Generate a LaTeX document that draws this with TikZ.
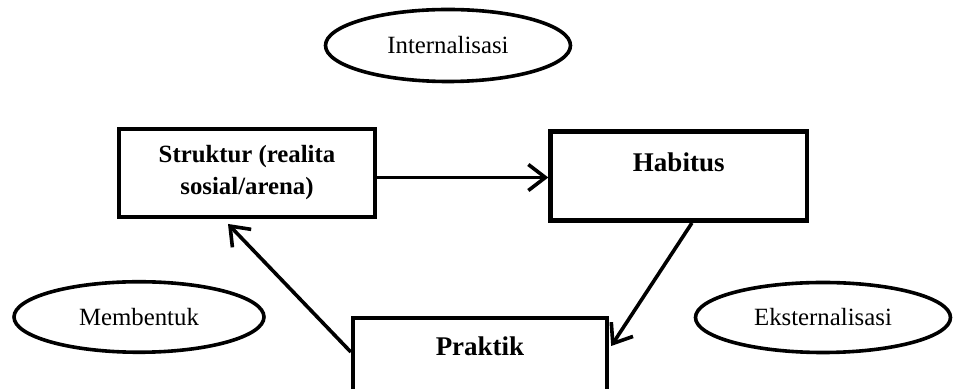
\documentclass[tikz,border=0pt]{standalone}
\usepackage{fontspec}
\setmainfont{Liberation Serif}
\usetikzlibrary{shapes.geometric,arrows.meta}

\begin{document}
\begin{tikzpicture}[x=0.5pt,y=-0.5pt,
  boxnode/.style={draw, line width=2.2pt, rectangle, inner sep=0pt, align=center},
  ovalnode/.style={draw, line width=1.8pt, ellipse, inner sep=0pt, font=\fontsize{12.4}{14}\selectfont},
  linkarrow/.style={line width=1.8pt, -{Straight Barb[length=8.5pt,width=13pt,line width=1.8pt]}}]
\clip (0,0) rectangle (955,389);
\node[ovalnode, minimum width=122.5pt, minimum height=36pt] (inter) at (448,45.5) {Internalisasi};
\node[ovalnode, minimum width=125pt, minimum height=35.25pt] (bentuk) at (139,317) {Membentuk};
\node[ovalnode, minimum width=127.5pt, minimum height=35pt] (ekster) at (823,317.5) {Eksternalisasi};
\node[boxnode, minimum width=128pt, minimum height=44.25pt,
  font=\fontsize{12.4}{16}\selectfont\bfseries] (struktur) at (247,173) {Struktur (realita\\sosial/arena)};
\node[boxnode, anchor=north, minimum width=128.25pt, text height=20pt, text depth=24.5pt,
  font=\fontsize{13.5}{15}\selectfont\bfseries] (habitus) at (678.75,129.5) {Habitus};
\node[boxnode, anchor=north, minimum width=127pt, text height=18.5pt, text depth=60pt,
  font=\fontsize{13.5}{15}\selectfont\bfseries] (praktik) at (480,316) {Praktik};
\draw[linkarrow] ([yshift=-2.25pt]struktur.east) -- ([yshift=-2.25pt]struktur.east -| habitus.west);
\draw[linkarrow] ([xshift=6.6pt]habitus.south) -- ([xshift=1pt,yshift=-15pt]praktik.north east);
\draw[linkarrow] ([yshift=-18pt]praktik.north west) -- ([xshift=-9.5pt,yshift=-2.25pt]struktur.south);
\end{tikzpicture}
\end{document}
